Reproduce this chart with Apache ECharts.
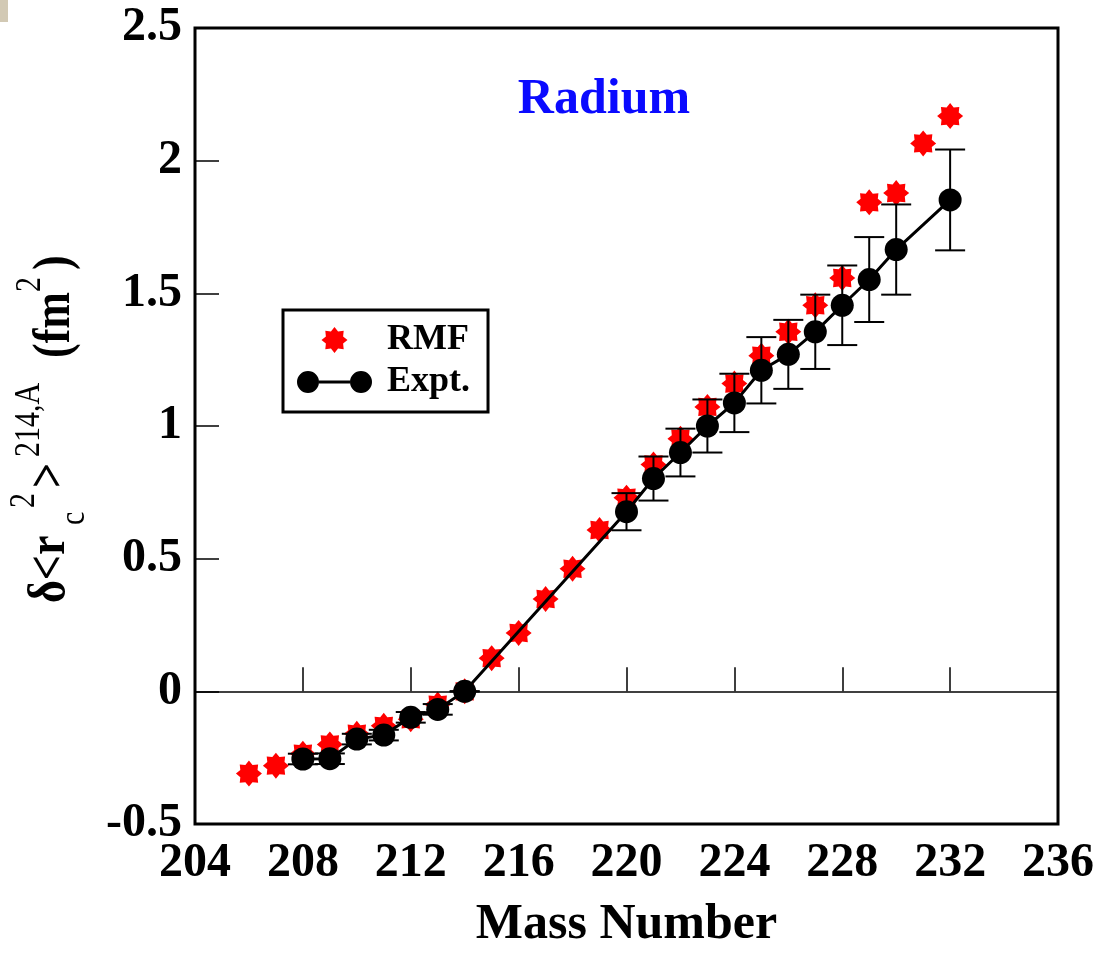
<!DOCTYPE html>
<html>
<head>
<meta charset="utf-8">
<script src="https://cdn.jsdelivr.net/npm/echarts@6/dist/echarts.min.js"></script>
<style>
  html, body { margin: 0; padding: 0; background: #fff; }
  #chart { width: 1102px; height: 955px; }
</style>
</head>
<body>
<div id="chart"></div>
<script>
// RMF calculation (red asterisks)
const rmfMass = [206, 207, 208, 209, 210, 211, 212, 213, 214, 215, 216, 217, 218, 219,
  220, 221, 222, 223, 224, 225, 226, 227, 228, 229, 230, 231, 232]
const rmfValues = [-0.31, -0.28, -0.235, -0.20, -0.16, -0.13, -0.105, -0.05, 0.0, 0.125, 0.22, 0.348, 0.462, 0.608,
  0.73, 0.855, 0.952, 1.072, 1.16, 1.265, 1.355, 1.455, 1.558, 1.843, 1.878, 2.065, 2.168]

// experiment (black dots with error bars)
const exptMass = [208, 209, 210, 211, 212, 213, 214, 220, 221, 222, 223, 224, 225, 226, 227, 228, 229, 230, 232]
const exptValues = [-0.255, -0.254, -0.18, -0.165, -0.098, -0.068, 0.0, 0.677, 0.802, 0.90, 1.0, 1.087,
  1.21, 1.27, 1.355, 1.455, 1.552, 1.665, 1.852]
const exptErrors = [0.02, 0.02, 0.02, 0.02, 0.02, 0.02, 0.0, 0.07, 0.083, 0.09, 0.1, 0.11,
  0.125, 0.13, 0.14, 0.15, 0.16, 0.17, 0.19]

const xTicks = [204, 208, 212, 216, 220, 224, 228, 232, 236]
const yTicks = [-0.5, 0, 0.5, 1, 1.5, 2, 2.5]

const serif = '"Liberation Serif", "Times New Roman", serif'

function starPath(n, R, r) {
  let d = ''
  for (let i = 0; i < 2 * n; i++) {
    const a = Math.PI * i / n - Math.PI / 2
    const rad = i % 2 ? r : R
    d += (i ? 'L' : 'M') + (R + rad * Math.cos(a)).toFixed(2) + ',' + (R + rad * Math.sin(a)).toFixed(2)
  }
  return 'path://' + d + 'Z'
}
const asterisk = starPath(8, 12, 8.6)
const exptIcon = 'path://M0,11A11,11 0 1,1 22,11A11,11 0 1,1 0,11Z' +
  'M53,11A11,11 0 1,1 75,11A11,11 0 1,1 53,11Z' +
  'M22,9.5L53,9.5L53,12.5L22,12.5Z'

// y axis title pieces, laid out along the rotated baseline (y = screen offset from baseline)
const yTitle = [
  { t: '\u03b4<r', x: 0, y: 0, big: true },
  { t: 'c', x: 78, y: 19 },
  { t: '2', x: 95, y: -31 },
  { t: '>', x: 115, y: 0, big: true },
  { t: '214,A', x: 146, y: -26 },
  { t: '(fm', x: 245, y: 5, big: true },
  { t: '2', x: 311, y: -25 },
  { t: ')', x: 333, y: 5, big: true }
]
const yTitleStretch = 1.2

const chart = echarts.init(document.getElementById('chart'))

const errData = exptMass.map((m, i) => [m, exptValues[i] - exptErrors[i], exptValues[i] + exptErrors[i]])

chart.setOption({
  animation: false,
  backgroundColor: '#fff',
  grid: {
    left: 195, right: 44, top: 28, bottom: 127,
    show: true, borderColor: '#000', borderWidth: 3, backgroundColor: 'transparent'
  },
  xAxis: {
    type: 'value', min: xTicks[0], max: xTicks[xTicks.length - 1], interval: 4,
    name: 'Mass Number', nameLocation: 'middle', nameGap: 76,
    nameTextStyle: { fontFamily: serif, fontSize: 50, fontWeight: 'bold', color: '#000' },
    axisLine: { show: false },
    axisTick: { show: true, inside: true, length: 24, lineStyle: { color: '#000', width: 1.5 } },
    axisLabel: { fontFamily: serif, fontSize: 48, fontWeight: 'bold', color: '#000', margin: 16 },
    splitLine: { show: false }
  },
  yAxis: {
    type: 'value', min: yTicks[0], max: yTicks[yTicks.length - 1], interval: 0.5,
    axisLine: { show: false },
    axisTick: { show: true, inside: true, length: 24, lineStyle: { color: '#000', width: 1.5 } },
    axisLabel: { fontFamily: serif, fontSize: 48, fontWeight: 'bold', color: '#000', margin: 13 },
    splitLine: { show: false }
  },
  legend: {
    orient: 'vertical', left: 283, top: 310,
    padding: [12, 18, 12, 14],
    borderColor: '#000', borderWidth: 3,
    itemWidth: 75, itemHeight: 26, itemGap: 6,
    symbolKeepAspect: true,
    textStyle: { fontFamily: serif, fontSize: 36, fontWeight: 'bold', color: '#000', padding: [0, 0, 0, 10] },
    data: [
      { name: 'RMF', icon: asterisk },
      { name: 'Expt.', icon: exptIcon }
    ]
  },
  graphic: [
    { type: 'rect', left: 0, top: 0, shape: { width: 8, height: 22 }, style: { fill: '#d2c9b4' } },
    {
      type: 'text', x: 604, y: 100,
      style: { text: 'Radium', align: 'center', verticalAlign: 'middle',
        font: 'bold 50px ' + serif, fill: '#0a0aff' }
    },
    {
      type: 'group', x: 68, y: 603, rotation: Math.PI / 2, scaleY: yTitleStretch,
      children: yTitle.map(p => {
        const fs = p.big ? 44 : 30
        return {
          type: 'text', x: p.x, y: p.y / yTitleStretch - 0.3375 * fs,
          style: { text: p.t, align: 'left', verticalAlign: 'middle',
            font: (p.big ? 'bold ' : '') + fs + 'px ' + serif, fill: '#000' }
        }
      })
    }
  ],
  series: [
    {
      name: 'RMF', type: 'scatter', z: 2,
      symbol: asterisk, symbolSize: 26,
      itemStyle: { color: '#ff0000', opacity: 1 },
      data: rmfMass.map((m, i) => [m, rmfValues[i]]),
      markLine: {
        silent: true, symbol: 'none', label: { show: false },
        lineStyle: { color: '#000', width: 1.5, type: 'solid' },
        data: [{ yAxis: 0 }]
      }
    },
    {
      name: 'Expt. errors', type: 'custom', z: 3,
      encode: { x: 0, y: [1, 2] },
      renderItem: function (params, api) {
        const x = api.value(0)
        const lo = api.coord([x, api.value(1)])
        const hi = api.coord([x, api.value(2)])
        const hw = 15
        const st = { stroke: '#000', lineWidth: 2 }
        return {
          type: 'group',
          children: [
            { type: 'line', shape: { x1: lo[0], y1: lo[1], x2: hi[0], y2: hi[1] }, style: st },
            { type: 'line', shape: { x1: lo[0] - hw, y1: lo[1], x2: lo[0] + hw, y2: lo[1] }, style: st },
            { type: 'line', shape: { x1: hi[0] - hw, y1: hi[1], x2: hi[0] + hw, y2: hi[1] }, style: st }
          ]
        }
      },
      data: errData
    },
    {
      name: 'Expt.', type: 'line', z: 4,
      symbol: 'circle', symbolSize: 23, showAllSymbol: true,
      itemStyle: { color: '#000' },
      lineStyle: { color: '#000', width: 3 },
      data: exptMass.map((m, i) => [m, exptValues[i]])
    }
  ]
})
</script>
</body>
</html>
